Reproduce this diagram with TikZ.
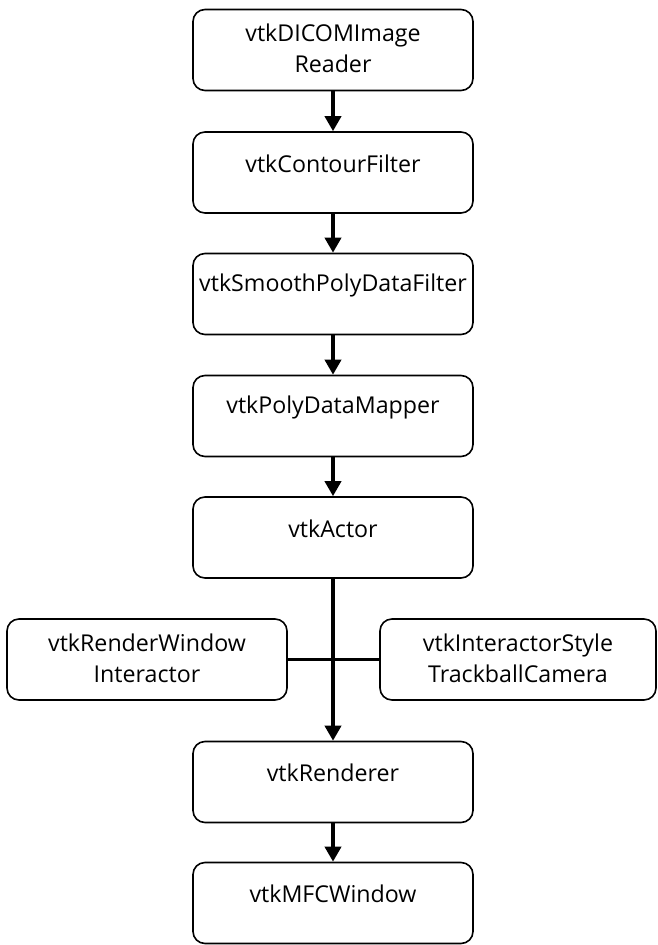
\documentclass[tikz,border=0pt]{standalone}
\usepackage{fontspec}
\setmainfont{Open Sans}
\usetikzlibrary{arrows.meta}
\begin{document}
\begin{tikzpicture}[x=1pt,y=-1pt,
  box/.style={draw, line width=1.6pt, rounded corners=12pt, minimum width=280pt, minimum height=81pt, inner sep=0pt},
  lbl/.style={font=\fontsize{23.2}{31}\selectfont, align=center, inner sep=0pt},
  flow/.style={line width=3.6pt, -{Triangle[length=15pt,width=16pt]}},
  link/.style={line width=3.3pt}]
\useasboundingbox (0,0) rectangle (657,945);
% boxes
\node[box] (b1) at (333,50) {};
\node[box] (b2) at (333,172.5) {};
\node[box] (b3) at (333,294) {};
\node[box] (b4) at (333,416) {};
\node[box] (b5) at (333,537.5) {};
\node[box] (b6) at (333,782) {};
\node[box] (b7) at (333,903) {};
\node[box] (bl) at (147,659.5) {};
\node[box, minimum width=276pt] (br) at (518,659.5) {};
% labels
\node[lbl] (t1) at ([yshift=1.5pt]b1.center) {vtkDICOMImage\\Reader};
\node[lbl] (t2) at ([yshift=9pt]b2.center) {vtkContourFilter};
\node[lbl] (t3) at ([yshift=9pt]b3.center) {vtkSmoothPolyDataFilter};
\node[lbl] (t4) at ([yshift=9pt]b4.center) {vtkPolyDataMapper};
\node[lbl] (t5) at ([yshift=9pt]b5.center) {vtkActor};
\node[lbl] (t6) at ([yshift=9pt]b6.center) {vtkRenderer};
\node[lbl] (t7) at ([yshift=9pt]b7.center) {vtkMFCWindow};
\node[lbl] (tl) at ([yshift=1.5pt]bl.center) {vtkRenderWindow\\Interactor};
\node[lbl] (tr) at ([yshift=1.5pt]br.center) {vtkInteractorStyle\\TrackballCamera};
% connectors
\draw[flow] (b1) -- (b2);
\draw[flow] (b2) -- (b3);
\draw[flow] (b3) -- (b4);
\draw[flow] (b4) -- (b5);
\draw[flow] (b5) -- (b6);
\draw[flow] (b6) -- (b7);
\draw[link] (bl) -- (br);
\end{tikzpicture}
\end{document}
